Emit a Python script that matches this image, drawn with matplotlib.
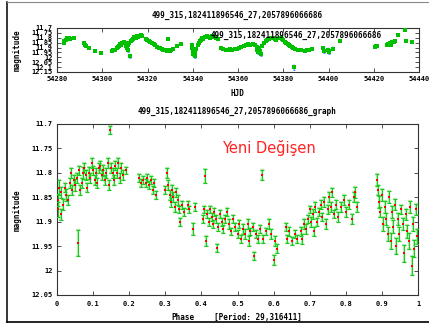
import numpy as np
import matplotlib
matplotlib.use('Agg')
import matplotlib.pyplot as plt
from matplotlib.lines import Line2D
from matplotlib.ticker import FormatStrFormatter

# ---- light curve (HJD, magnitude, error)
hjd = [54283.0, 54283.3, 54283.8, 54284.6, 54285.4, 54285.9, 54287.6,
       54292.0, 54292.5, 54293.0, 54294.3, 54296.8, 54299.3,
       54304.2, 54304.8, 54305.5, 54306.3, 54306.9, 54307.4, 54307.9, 54308.4, 54308.9, 54309.4,
       54309.9, 54310.3, 54310.7, 54311.0, 54311.3, 54311.5, 54311.8, 54312.2, 54312.5, 54313.0,
       54313.5, 54314.0, 54314.5, 54315.0, 54315.5, 54316.0, 54316.5, 54317.0, 54317.6,
       54319.2, 54319.8, 54320.5, 54321.2, 54322.0, 54322.8, 54323.5, 54324.2, 54324.9, 54325.6,
       54326.3, 54327.0, 54327.7, 54328.4, 54329.0, 54329.4, 54330.0, 54330.6, 54331.2, 54333.0, 54335.0,
       54339.5, 54339.8, 54340.0, 54340.3, 54340.6, 54340.9, 54341.2, 54341.6, 54342.2, 54342.6,
       54343.0, 54343.5, 54344.0, 54344.5, 54345.3, 54346.2, 54347.0, 54347.8, 54348.6, 54349.4,
       54350.3, 54351.0,
       54352.5, 54353.5, 54354.5, 54355.5, 54356.5, 54357.5, 54358.5, 54359.5, 54360.5, 54361.5,
       54362.5, 54363.5, 54364.5, 54365.5, 54366.5, 54367.3, 54368.2, 54368.6, 54369.0, 54369.4,
       54369.8, 54370.2, 54370.6, 54371.4, 54372.2, 54373.0, 54373.8, 54374.6, 54375.4, 54376.2, 54377.0,
       54378.6, 54379.3, 54380.0, 54380.7, 54381.4, 54382.0, 54382.6, 54383.2, 54383.8, 54384.4,
       54384.7, 54385.3, 54386.5, 54388.0, 54389.5, 54390.5, 54391.5, 54392.5,
       54397.5, 54397.8, 54399.7, 54400.0, 54400.3, 54402.0, 54405.0,
       54420.5, 54421.0, 54421.5, 54426.0, 54426.5, 54427.0, 54427.6, 54428.2, 54428.8, 54429.4,
       54430.7, 54433.8, 54434.2, 54437.0]
mag = [11.855, 11.835, 11.82, 11.805, 11.80, 11.81, 11.80,
       11.855, 11.87, 11.885, 11.905, 11.935, 11.96,
       11.94, 11.93, 11.925, 11.905, 11.89, 11.88, 11.865, 11.87, 11.85, 11.84,
       11.855, 11.86, 11.88, 11.90, 11.93, 11.875, 11.85, 11.99, 11.835, 11.82,
       11.81, 11.795, 11.79, 11.80, 11.785, 11.79, 11.78, 11.775, 11.78,
       11.815, 11.825, 11.83, 11.84, 11.855, 11.86, 11.875, 11.89, 11.90, 11.905,
       11.915, 11.92, 11.925, 11.935, 11.81, 11.93, 11.94, 11.925, 11.91, 11.885, 11.86,
       11.87, 11.90, 11.94, 11.97, 11.925, 11.985, 11.95, 11.91, 11.87, 11.85,
       11.835, 11.82, 11.805, 11.81, 11.795, 11.785, 11.79, 11.80, 11.785, 11.795,
       11.80, 11.815,
       11.90, 11.915, 11.92, 11.925, 11.915, 11.92, 11.915, 11.91, 11.905, 11.89,
       11.88, 11.87, 11.86, 11.875, 11.865, 11.87, 11.89, 11.92, 11.95, 11.905,
       11.935, 11.97, 11.88, 11.85, 11.835, 11.82, 11.81, 11.805, 11.80, 11.81, 11.82,
       11.805, 11.815, 11.825, 11.84, 11.85, 11.865, 11.875, 11.885, 11.895, 11.90,
       12.10, 11.91, 11.925, 11.93, 11.935, 11.925, 11.92, 11.915,
       11.905, 11.94, 11.92, 11.95, 11.935, 11.91, 11.83,
       11.895, 11.885, 11.88, 11.875, 11.86, 11.85, 11.87, 11.845, 11.84, 11.83,
       11.775, 11.72, 11.83, 11.84]
mag_err = [0.012, 0.008, 0.006, 0.006, 0.005, 0.005, 0.005,
           0.008, 0.008, 0.006, 0.006, 0.006, 0.006,
           0.006, 0.006, 0.006, 0.008, 0.006, 0.006, 0.006, 0.008, 0.006, 0.006,
           0.008, 0.010, 0.012, 0.015, 0.020, 0.010, 0.008, 0.020, 0.008, 0.006,
           0.006, 0.006, 0.005, 0.006, 0.005, 0.006, 0.005, 0.005, 0.006,
           0.006, 0.006, 0.006, 0.006, 0.006, 0.006, 0.006, 0.008, 0.006, 0.008,
           0.006, 0.006, 0.008, 0.008, 0.006, 0.010, 0.008, 0.008, 0.006, 0.006, 0.005,
           0.015, 0.015, 0.020, 0.020, 0.015, 0.020, 0.015, 0.010, 0.010, 0.008,
           0.008, 0.008, 0.006, 0.008, 0.006, 0.006, 0.006, 0.006, 0.006, 0.006,
           0.006, 0.006,
           0.006, 0.006, 0.006, 0.006, 0.006, 0.006, 0.006, 0.006, 0.006, 0.008,
           0.006, 0.008, 0.008, 0.008, 0.008, 0.006, 0.012, 0.015, 0.015, 0.012,
           0.012, 0.015, 0.008, 0.008, 0.006, 0.006, 0.006, 0.006, 0.006, 0.006, 0.006,
           0.006, 0.006, 0.008, 0.008, 0.008, 0.010, 0.008, 0.010, 0.010, 0.008,
           0.025, 0.008, 0.006, 0.006, 0.006, 0.006, 0.006, 0.006,
           0.012, 0.015, 0.015, 0.020, 0.015, 0.015, 0.006,
           0.008, 0.008, 0.006, 0.008, 0.010, 0.008, 0.010, 0.008, 0.006, 0.006,
           0.005, 0.005, 0.006, 0.006]

# ---- folded curve (phase, magnitude, error)
phase = [0.002, 0.004, 0.006, 0.010, 0.012, 0.018, 0.022, 0.026, 0.030, 0.035,
         0.038, 0.042, 0.046, 0.050, 0.055, 0.058, 0.060, 0.065, 0.070, 0.072,
         0.076, 0.080, 0.084, 0.088, 0.092, 0.096, 0.100, 0.104, 0.108, 0.112,
         0.116, 0.120, 0.124, 0.128, 0.132, 0.136, 0.140, 0.144, 0.147, 0.150,
         0.154, 0.158, 0.162, 0.166, 0.170, 0.174, 0.178, 0.184, 0.190,
         0.228, 0.232, 0.238, 0.246, 0.250, 0.256, 0.260, 0.265, 0.270, 0.275, 0.300,
         0.305, 0.308, 0.312, 0.315, 0.318, 0.322, 0.326, 0.330, 0.334, 0.338,
         0.342, 0.346, 0.352, 0.362, 0.366, 0.376, 0.382,
         0.405, 0.408, 0.410, 0.412, 0.416, 0.420, 0.424, 0.428, 0.432, 0.436,
         0.440, 0.443, 0.447, 0.452, 0.456, 0.460, 0.466, 0.470, 0.476, 0.482,
         0.488, 0.494,
         0.500, 0.505, 0.510, 0.516, 0.522, 0.528, 0.532, 0.536, 0.542, 0.546,
         0.552, 0.556, 0.562, 0.568, 0.572, 0.580, 0.588, 0.594, 0.601, 0.605, 0.610,
         0.634, 0.638, 0.644, 0.650, 0.660, 0.664, 0.676, 0.680, 0.684, 0.690, 0.696,
         0.700, 0.704, 0.708, 0.712, 0.716, 0.720, 0.726, 0.730, 0.735, 0.740,
         0.745, 0.750, 0.754, 0.758, 0.762, 0.766, 0.772, 0.778, 0.786, 0.796,
         0.800, 0.810, 0.816, 0.822, 0.826, 0.830,
         0.886, 0.888, 0.892, 0.896, 0.900, 0.904, 0.908, 0.912, 0.916, 0.920,
         0.924, 0.928, 0.932, 0.936, 0.940, 0.944, 0.948, 0.952, 0.958, 0.962,
         0.966, 0.970, 0.974, 0.978, 0.982, 0.986, 0.990, 0.994, 0.998]
ph_mag = [11.855, 11.875, 11.83, 11.885, 11.84, 11.865, 11.83, 11.845, 11.855, 11.82,
          11.80, 11.835, 11.815, 11.825, 11.81, 11.944, 11.795, 11.835, 11.82, 11.80,
          11.79, 11.805, 11.83, 11.80, 11.81, 11.78, 11.795, 11.815, 11.80, 11.82,
          11.79, 11.785, 11.805, 11.795, 11.815, 11.80, 11.78, 11.825, 11.712, 11.79,
          11.80, 11.815, 11.785, 11.80, 11.78, 11.81, 11.79, 11.805, 11.795,
          11.81, 11.82, 11.815, 11.82, 11.81, 11.825, 11.815, 11.835, 11.82, 11.845, 11.835,
          11.80, 11.825, 11.845, 11.86, 11.835, 11.85, 11.87, 11.84, 11.855, 11.875,
          11.90, 11.865, 11.88, 11.865, 11.875, 11.915, 11.87,
          11.895, 11.875, 11.806, 11.94, 11.885, 11.90, 11.875, 11.89, 11.905, 11.88,
          11.895, 11.953, 11.91, 11.885, 11.90, 11.915, 11.895, 11.88, 11.905, 11.92,
          11.895, 11.91,
          11.925, 11.905, 11.935, 11.915, 11.925, 11.905, 11.94, 11.92, 11.91, 11.97,
          11.925, 11.935, 11.915, 11.804, 11.935, 11.92, 11.905, 11.925, 11.978, 11.94, 11.955,
          11.91, 11.935, 11.92, 11.94, 11.925, 11.935, 11.92, 11.935, 11.905, 11.915, 11.895,
          11.875, 11.90, 11.885, 11.92, 11.87, 11.90, 11.88, 11.865, 11.89, 11.86,
          11.905, 11.875, 11.85, 11.87, 11.84, 11.885, 11.865, 11.89, 11.87, 11.855,
          11.88, 11.865, 11.895, 11.85, 11.84, 11.87,
          11.815, 11.835, 11.86, 11.88, 11.845, 11.905, 11.87, 11.895, 11.925, 11.85,
          11.94, 11.88, 11.91, 11.865, 11.95, 11.895, 11.925, 11.875, 11.905, 11.965,
          11.885, 11.92, 11.94, 11.87, 11.99, 11.905, 11.955, 11.875, 11.93]
ph_err = [0.012, 0.015, 0.015, 0.012, 0.012, 0.012, 0.010, 0.012, 0.010, 0.010,
          0.010, 0.010, 0.010, 0.012, 0.010, 0.027, 0.010, 0.010, 0.010, 0.012,
          0.010, 0.010, 0.010, 0.012, 0.010, 0.010, 0.010, 0.010, 0.010, 0.010,
          0.010, 0.010, 0.010, 0.012, 0.010, 0.010, 0.010, 0.010, 0.008, 0.010,
          0.010, 0.010, 0.010, 0.010, 0.010, 0.010, 0.010, 0.010, 0.008,
          0.008, 0.008, 0.008, 0.008, 0.008, 0.008, 0.008, 0.008, 0.008, 0.008, 0.008,
          0.010, 0.010, 0.010, 0.010, 0.010, 0.010, 0.010, 0.010, 0.010, 0.008,
          0.008, 0.008, 0.008, 0.008, 0.008, 0.012, 0.008,
          0.008, 0.008, 0.014, 0.010, 0.008, 0.008, 0.008, 0.008, 0.008, 0.008,
          0.008, 0.008, 0.008, 0.008, 0.008, 0.008, 0.008, 0.008, 0.010, 0.008,
          0.008, 0.008,
          0.008, 0.008, 0.008, 0.010, 0.010, 0.010, 0.010, 0.008, 0.008, 0.008,
          0.008, 0.008, 0.008, 0.010, 0.008, 0.008, 0.010, 0.010, 0.010, 0.010, 0.010,
          0.008, 0.008, 0.010, 0.008, 0.008, 0.008, 0.010, 0.010, 0.010, 0.010, 0.008,
          0.008, 0.010, 0.010, 0.010, 0.010, 0.008, 0.008, 0.010, 0.008, 0.010,
          0.010, 0.010, 0.010, 0.010, 0.010, 0.008, 0.010, 0.010, 0.010, 0.010,
          0.010, 0.010, 0.010, 0.010, 0.012, 0.010,
          0.012, 0.010, 0.012, 0.010, 0.012, 0.014, 0.012, 0.012, 0.014, 0.012,
          0.016, 0.012, 0.014, 0.012, 0.016, 0.012, 0.014, 0.010, 0.012, 0.018,
          0.012, 0.014, 0.016, 0.012, 0.020, 0.014, 0.018, 0.012, 0.016]

star = '499_315,182411896546_27,2057896066686'
period_label = '[Period: 29,316411]'
top_yticks = [11.7, 11.75, 11.8, 11.85, 11.9, 11.95, 12.0, 12.05, 12.1, 12.15]
top_xticks = [54280, 54300, 54320, 54340, 54360, 54380, 54400, 54420, 54440]
bot_yticks = [11.7, 11.75, 11.8, 11.85, 11.9, 11.95, 12.0, 12.05]
bot_xticks = [0, 0.1, 0.2, 0.3, 0.4, 0.5, 0.6, 0.7, 0.8, 0.9, 1]

mono = dict(family='DejaVu Sans Mono', weight='bold')
W, H = 429, 327


def style_axes(ax):
	for s in ax.spines.values():
		s.set_color('#333333')
		s.set_linewidth(0.8)
	ax.tick_params(direction='in', length=3, width=0.6, color='#333333',
	               top=True, right=True, labelsize=5, pad=3)
	for lab in ax.get_xticklabels() + ax.get_yticklabels():
		lab.set_fontfamily('DejaVu Sans Mono')
		lab.set_fontweight('bold')
	ax.yaxis.set_major_formatter(FormatStrFormatter('%g'))
	ax.xaxis.set_major_formatter(FormatStrFormatter('%g'))


fig = plt.figure(figsize=(W / 100, H / 100), dpi=100)

# ---- top panel: HJD light curve
ax1 = fig.add_axes([57 / W, 1 - 72 / H, 362 / W, 44 / H])
ax1.errorbar(hjd, mag, yerr=mag_err, fmt='none', ecolor='#c2e0ff', elinewidth=1.3,
             capsize=1.0, capthick=1.3, zorder=2)
ax1.errorbar(hjd, mag, yerr=mag_err, fmt='none', ecolor='#3a96ff', elinewidth=0.6,
             capsize=1.0, capthick=0.6, zorder=3)
ax1.plot(hjd, mag, 's', color='#00c000', ms=2.2, mew=0, zorder=4)
ax1.set_xlim(54280, 54440)
ax1.set_ylim(12.15, 11.7)
ax1.set_xticks(top_xticks)
ax1.set_yticks(top_yticks)
style_axes(ax1)
ax1.text(0.66, 0.84, star, transform=ax1.transAxes, ha='center', va='center',
         fontsize=5.5, zorder=6, **mono)
fig.text(237 / W, 1 - 15 / H, star, ha='center', va='center', fontsize=5.5, **mono)
fig.text(237 / W, 1 - 94 / H, 'HJD', ha='center', va='center', fontsize=5.5, **mono)
fig.text(17 / W, 1 - 50 / H, 'magnitude', ha='center', va='center', rotation=90,
         fontsize=5.5, **mono)

# ---- bottom panel: phase diagram
ax2 = fig.add_axes([57 / W, 1 - 295 / H, 361 / W, 171 / H])
ax2.errorbar(phase, ph_mag, yerr=ph_err, fmt='none', ecolor='#b5ecb5', elinewidth=1.6,
             capsize=1.6, capthick=1.6, zorder=2)
ax2.errorbar(phase, ph_mag, yerr=ph_err, fmt='none', ecolor='#1ec81e', elinewidth=0.8,
             capsize=1.6, capthick=0.8, zorder=3)
ax2.plot(phase, ph_mag, 's', color='#ff0000', ms=2.0, mew=0, zorder=4)
ax2.set_xlim(0, 1)
ax2.set_ylim(12.05, 11.7)
ax2.set_xticks(bot_xticks)
ax2.set_yticks(bot_yticks)
style_axes(ax2)
ax2.tick_params(axis='x', pad=4)
ax2.text(0.457, 0.86, 'Yeni Değişen', transform=ax2.transAxes, ha='left', va='center',
         fontsize=10.5, color='#ff2222', family='DejaVu Sans')
fig.text(237 / W, 1 - 111 / H, star + '_graph', ha='center', va='center', fontsize=5.5, **mono)
fig.text(183 / W, 1 - 317 / H, 'Phase', ha='center', va='center', fontsize=5.5, **mono)
fig.text(258 / W, 1 - 317 / H, period_label, ha='center', va='center', fontsize=5.5, **mono)
fig.text(17 / W, 1 - 210 / H, 'magnitude', ha='center', va='center', rotation=90,
         fontsize=5.5, **mono)

# ---- outer frame
fig.add_artist(Line2D([6.5 / W, 6.5 / W], [1 - 1.5 / H, 1 - 322 / H], transform=fig.transFigure,
                      color='black', lw=1.1))
fig.add_artist(Line2D([6.5 / W, 1], [1 - 1.5 / H, 1 - 1.5 / H], transform=fig.transFigure,
                      color='#888888', lw=0.8))
fig.add_artist(Line2D([6.5 / W, 1], [1 - 322 / H, 1 - 322 / H], transform=fig.transFigure,
                      color='black', lw=1.2))

fig.savefig('out.png', dpi=100)
